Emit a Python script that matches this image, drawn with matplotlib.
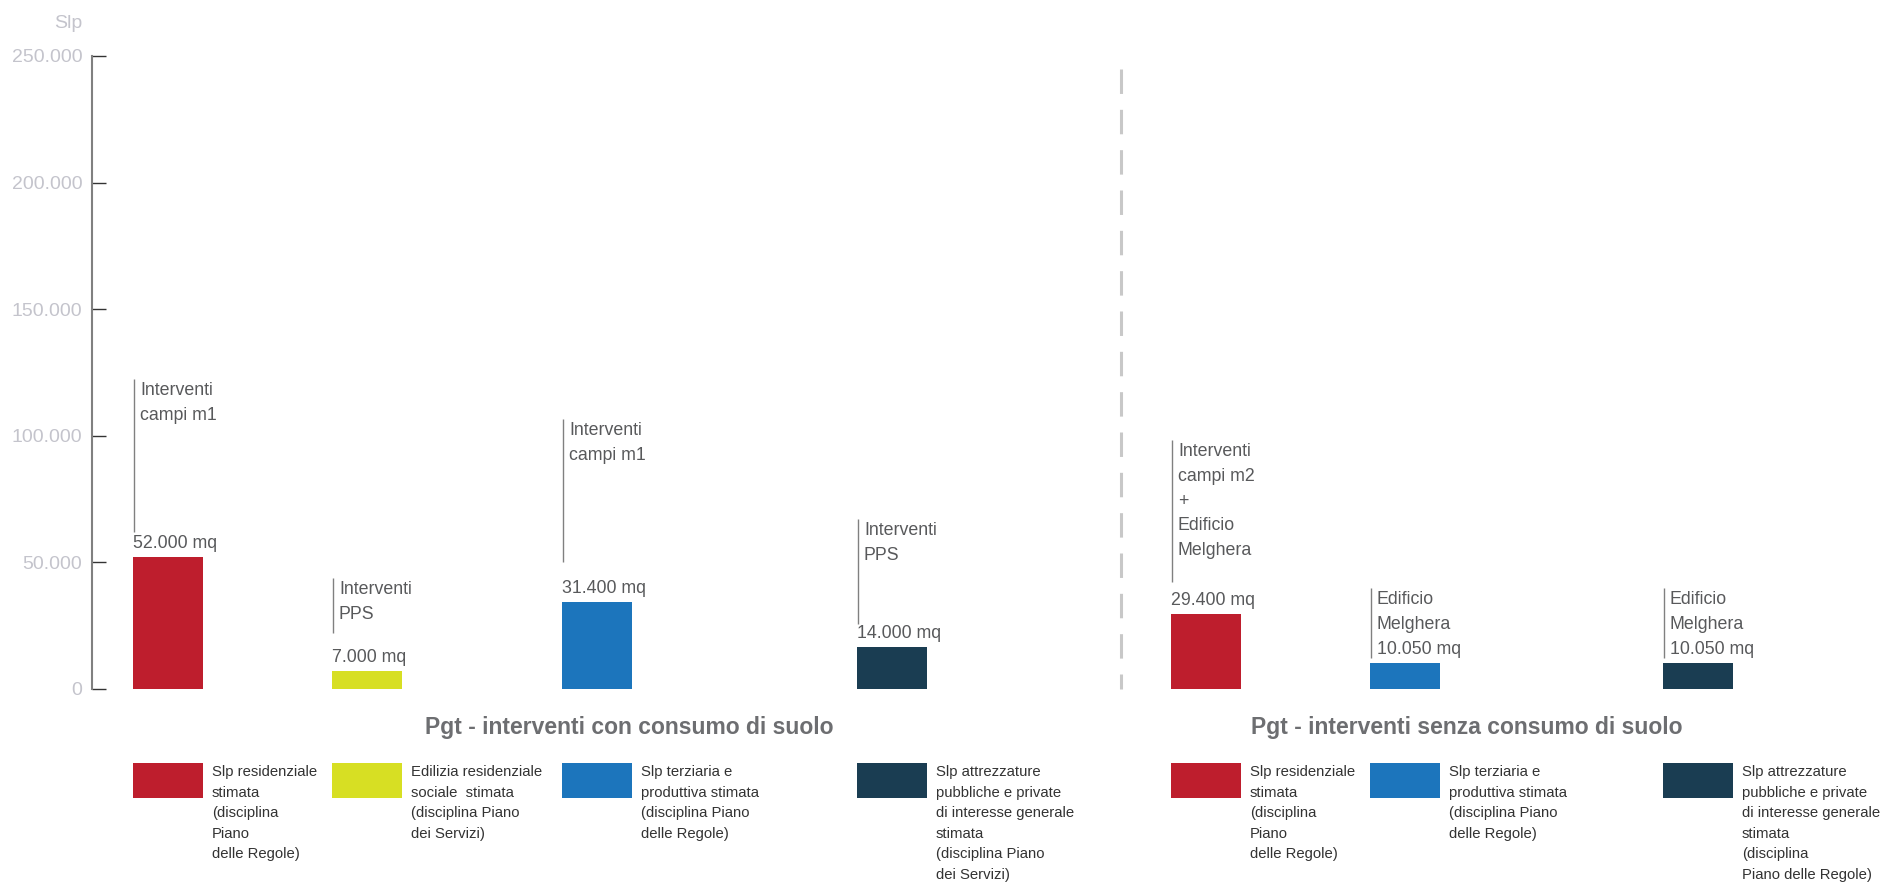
from matplotlib import font_manager
import matplotlib.pyplot as plt
from matplotlib.patches import Rectangle
from matplotlib.transforms import blended_transform_factory

# --- dati ---
gruppi = ['Pgt - interventi con consumo di suolo',
          'Pgt - interventi senza consumo di suolo']
# altezze delle barre come sono disegnate nel grafico
slp = [52000, 7000, 34300, 16500, 29400, 10050, 10050]
etichette = ['52.000 mq', '7.000 mq', '31.400 mq', '14.000 mq',
             '29.400 mq', '10.050 mq', '10.050 mq']
note = ['Interventi\ncampi m1', 'Interventi\nPPS', 'Interventi\ncampi m1',
        'Interventi\nPPS', 'Interventi\ncampi m2\n+\nEdificio\nMelghera',
        'Edificio\nMelghera', 'Edificio\nMelghera']
legenda = [
    'Slp residenziale\nstimata\n(disciplina\nPiano\ndelle Regole)',
    'Edilizia residenziale\nsociale  stimata\n(disciplina Piano\ndei Servizi)',
    'Slp terziaria e\nproduttiva stimata\n(disciplina Piano\ndelle Regole)',
    'Slp attrezzature\npubbliche e private\ndi interesse generale\nstimata\n'
    '(disciplina Piano\ndei Servizi)',
    'Slp residenziale\nstimata\n(disciplina\nPiano\ndelle Regole)',
    'Slp terziaria e\nproduttiva stimata\n(disciplina Piano\ndelle Regole)',
    'Slp attrezzature\npubbliche e private\ndi interesse generale\nstimata\n'
    '(disciplina\nPiano delle Regole)',
]
y_ticks = [0, 50000, 100000, 150000, 200000, 250000]

# --- layout ---
colori = ['#be1e2d', '#d7df23', '#1c75bc', '#1a3d52',
          '#be1e2d', '#1c75bc', '#1a3d52']
pos = [76, 275, 505, 800, 1114, 1313, 1606]
larg = 70
nota_da = [61900, 22000, 50000, 25500, 42200, 12100, 12100]
nota_a = [122400, 43700, 106500, 67000, 98300, 39800, 39800]
etichetta_in_nota = [False, False, False, False, False, True, True]
centro_gruppi = [537, 1375]
x_divisore = 1029

# font stretto (tipo Arial Narrow) se disponibile
try:
    font_manager.findfont('Liberation Sans Narrow', fallback_to_default=False)
    STRETTO, k, ls = 'Liberation Sans Narrow', 1.0, 1.35
except ValueError:
    STRETTO, k, ls = 'Liberation Sans', 0.85, 1.6

plt.rcParams['font.family'] = ['Liberation Sans', 'DejaVu Sans']

fig = plt.figure(figsize=(18.9, 8.9), dpi=100)
ax = fig.add_axes([92 / 1890, 0.2262, 1798 / 1890, 0.7109])

ax.bar(pos, slp, width=larg, color=colori)

for s in ['top', 'right', 'bottom']:
    ax.spines[s].set_visible(False)
ax.spines['left'].set_color('#808080')
ax.spines['left'].set_linewidth(1.5)
ax.set_xticks([])
ax.set_yticks(y_ticks, labels=[f'{v:,}'.replace(',', '.') for v in y_ticks])
ax.tick_params(axis='y', direction='in', length=10, width=1,
               color='#333333', pad=7, labelsize=14, labelcolor='#c4c4cc')

# note sopra le barre
for i in range(len(slp)):
    x0 = pos[i] - larg / 2 + 1
    ax.plot([x0, x0], [nota_da[i], nota_a[i]], color='#808080', lw=1,
            solid_capstyle='butt')
    testo = note[i]
    if etichetta_in_nota[i]:
        testo = testo + '\n' + etichette[i]
    else:
        ax.text(x0 - 1, slp[i] + 5300, etichette[i], ha='left', va='center',
                fontsize=15 * k, family=STRETTO, color='#58595b')
    ax.text(x0 + 6, nota_a[i] - 1200, testo, ha='left', va='top',
            fontsize=15 * k, family=STRETTO, color='#58595b',
            linespacing=ls)

# linea di separazione tratteggiata
ax.plot([x_divisore, x_divisore], [244800, 0], color='#c8c8c8', lw=2.2,
        dashes=(8, 5.2), solid_capstyle='butt', clip_on=False)

ax.set_xlim(0, 1798)
ax.set_ylim(0, 250000)

# titoli dei gruppi e legenda sotto il grafico
trans = blended_transform_factory(ax.transData, fig.transFigure)
for c, g in zip(centro_gruppi, gruppi):
    ax.text(c, 0.1831, g, transform=trans, ha='center', va='center',
            fontsize=16.5, fontweight='bold', color='#6d6e71', clip_on=False)

for i in range(len(legenda)):
    fig.add_artist(Rectangle((pos[i] - larg / 2, 0.1034), larg, 0.0393,
                             transform=trans, color=colori[i], lw=0))
    ax.text(pos[i] + larg / 2 + 9, 0.1404, legenda[i], transform=trans,
            ha='left', va='top', fontsize=12.6 * k, family=STRETTO,
            color='#333333', linespacing=ls, clip_on=False)

fig.text(82 / 1890, 1 - 23 / 890, 'Slp', ha='right', va='center',
         fontsize=14, color='#c4c4cc')

plt.savefig('out.png', dpi=100)
